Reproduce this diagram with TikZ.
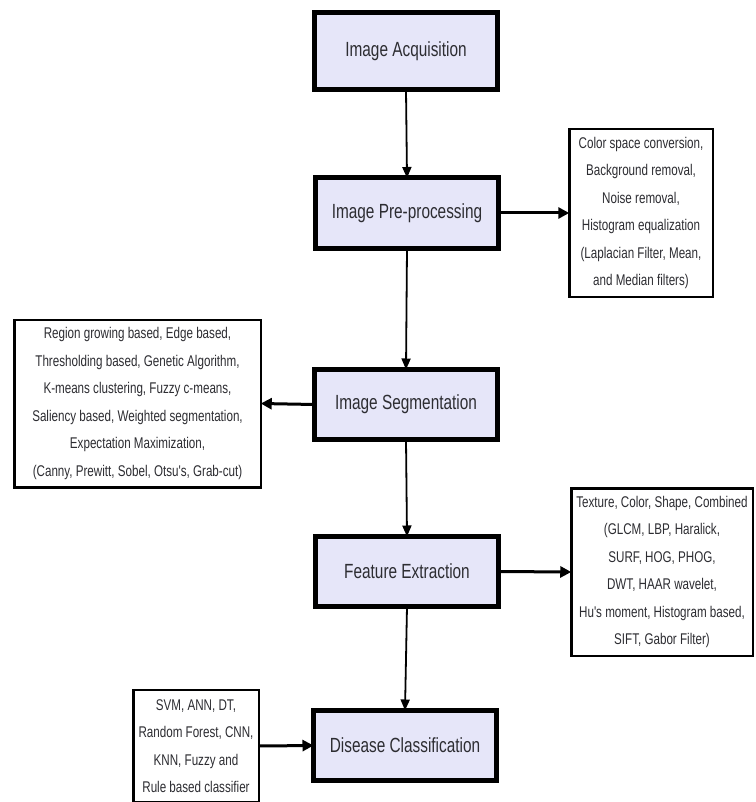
\documentclass[tikz,border=0pt]{standalone}
\usepackage{fontspec}
\usetikzlibrary{arrows.meta}
\newfontfamily\narrow[FakeStretch=0.75]{Liberation Sans}
\definecolor{boxfill}{RGB}{230,230,249}
\definecolor{txt}{RGB}{45,45,50}
\tikzset{
  mainbox/.style={draw=black, line width=5pt, fill=boxfill, inner sep=0pt, outer sep=0pt,
    minimum width=183pt, minimum height=70pt, text=txt,
    font=\narrow\fontsize{20.5}{24}\selectfont},
  notebox/.style={draw=black, line width=2.5pt, fill=white, inner sep=0pt, outer sep=0pt,
    align=center, text=txt, font=\narrow\fontsize{15.5}{27.5}\selectfont},
  vflow/.style={line width=1.8pt, -{Triangle[length=11pt,width=9pt]}},
  hflow/.style={line width=3pt, -{Triangle[length=11pt,width=11pt]}}
}
\begin{document}
\begin{tikzpicture}[x=1pt,y=-1pt]
\useasboundingbox (0,0) rectangle (755,802);
\fill[white] (0,0) rectangle (755,802);
% main boxes
\node[mainbox, minimum height=77pt] (acq) at (406,51.5) {Image Acquisition};
\node[mainbox] (pre) at (407,213) {Image Pre-processing};
\node[mainbox] (seg) at (406,404.5) {Image Segmentation};
\node[mainbox] (feat) at (407,571.5) {Feature Extraction};
\node[mainbox] (dis) at (405,745.5) {Disease Classification};
% note boxes
\node[notebox, minimum width=143.5pt, minimum height=167.5pt] (n1) at (641,213)
  {Color space conversion,\\Background removal,\\Noise removal,\\Histogram equalization\\(Laplacian Filter, Mean,\\and Median filters)};
\node[notebox, minimum width=246.5pt, minimum height=167.5pt] (n2) at (137.5,403.5)
  {Region growing based, Edge based,\\Thresholding based, Genetic Algorithm,\\K-means clustering, Fuzzy c-means,\\Saliency based, Weighted segmentation,\\Expectation Maximization,\\(Canny, Prewitt, Sobel, Otsu's, Grab-cut)};
\node[notebox, minimum width=181.5pt, minimum height=167.5pt] (n3) at (662,572)
  {Texture, Color, Shape, Combined\\(GLCM, LBP, Haralick,\\SURF, HOG, PHOG,\\DWT, HAAR wavelet,\\Hu's moment, Histogram based,\\SIFT, Gabor Filter)};
\node[notebox, minimum width=125.5pt, minimum height=112pt] (n4) at (196,746)
  {SVM, ANN, DT,\\Random Forest, CNN,\\KNN, Fuzzy and\\Rule based classifier};
% connectors
\draw[vflow] (acq.south) -- (pre.north);
\draw[vflow] (pre.south) -- (seg.north);
\draw[vflow] (seg.south) -- (feat.north);
\draw[vflow] (feat.south) -- (dis.north);
\draw[hflow] (pre.east) -- (n1.west);
\draw[hflow] (seg.west) -- (n2.east);
\draw[hflow] (feat.east) -- (n3.west);
\draw[hflow] (n4.east) -- (dis.west);
\end{tikzpicture}
\end{document}
